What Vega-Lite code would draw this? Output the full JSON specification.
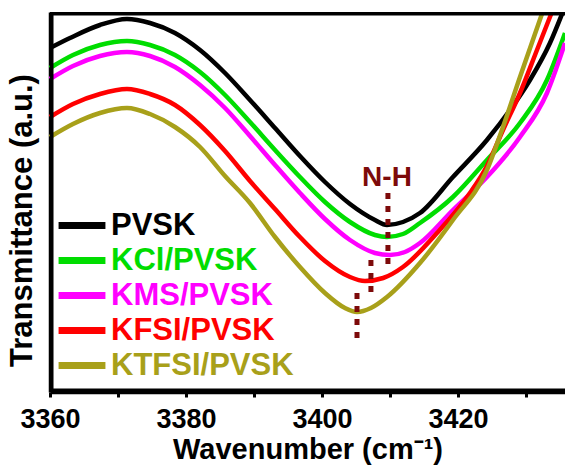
{
  "$schema": "https://vega.github.io/schema/vega-lite/v6.json",
  "width": 515,
  "height": 380,
  "autosize": {"type": "none"},
  "padding": {"left": 50, "top": 12, "right": 0, "bottom": 73},
  "background": "white",
  "config": {
    "view": {"stroke": null},
    "font": "Liberation Sans",
    "axis": {"grid": false, "domainColor": "black", "domainWidth": 3.5, "tickColor": "black", "tickWidth": 3, "labelColor": "black", "titleColor": "black", "labelFont": "Liberation Sans", "titleFont": "Liberation Sans", "labelFontWeight": "bold", "titleFontWeight": "bold"}
  },
  "datasets": {
    "spectra": [
      {"s": "PVSK", "w": 3360, "t": 344}, {"s": "PVSK", "w": 3362.94, "t": 354}, {"s": "PVSK", "w": 3367.35, "t": 367}, {"s": "PVSK", "w": 3371.32, "t": 373}, {"s": "PVSK", "w": 3374.71, "t": 369}, {"s": "PVSK", "w": 3378.38, "t": 359}, {"s": "PVSK", "w": 3382.06, "t": 342}, {"s": "PVSK", "w": 3385.74, "t": 319}, {"s": "PVSK", "w": 3389.41, "t": 292}, {"s": "PVSK", "w": 3393.09, "t": 264}, {"s": "PVSK", "w": 3396.76, "t": 236}, {"s": "PVSK", "w": 3400.44, "t": 210}, {"s": "PVSK", "w": 3404.12, "t": 188}, {"s": "PVSK", "w": 3407.79, "t": 172}, {"s": "PVSK", "w": 3409.56, "t": 167}, {"s": "PVSK", "w": 3411.91, "t": 170}, {"s": "PVSK", "w": 3414.41, "t": 179}, {"s": "PVSK", "w": 3419.26, "t": 215}, {"s": "PVSK", "w": 3424.26, "t": 252}, {"s": "PVSK", "w": 3427.65, "t": 282}, {"s": "PVSK", "w": 3430.59, "t": 312}, {"s": "PVSK", "w": 3433.53, "t": 349}, {"s": "PVSK", "w": 3435.3, "t": 378},
      {"s": "KCl/PVSK", "w": 3360, "t": 324}, {"s": "KCl/PVSK", "w": 3363.38, "t": 337}, {"s": "KCl/PVSK", "w": 3367.35, "t": 347}, {"s": "KCl/PVSK", "w": 3371.32, "t": 351}, {"s": "KCl/PVSK", "w": 3374.71, "t": 347}, {"s": "KCl/PVSK", "w": 3378.38, "t": 337}, {"s": "KCl/PVSK", "w": 3382.06, "t": 320}, {"s": "KCl/PVSK", "w": 3385.74, "t": 297}, {"s": "KCl/PVSK", "w": 3389.41, "t": 270}, {"s": "KCl/PVSK", "w": 3393.09, "t": 242}, {"s": "KCl/PVSK", "w": 3396.76, "t": 215}, {"s": "KCl/PVSK", "w": 3400.44, "t": 190}, {"s": "KCl/PVSK", "w": 3404.12, "t": 170}, {"s": "KCl/PVSK", "w": 3407.79, "t": 157}, {"s": "KCl/PVSK", "w": 3409.56, "t": 155}, {"s": "KCl/PVSK", "w": 3411.91, "t": 158}, {"s": "KCl/PVSK", "w": 3414.41, "t": 169}, {"s": "KCl/PVSK", "w": 3419.26, "t": 195}, {"s": "KCl/PVSK", "w": 3424.26, "t": 232}, {"s": "KCl/PVSK", "w": 3429.12, "t": 269}, {"s": "KCl/PVSK", "w": 3433.09, "t": 312}, {"s": "KCl/PVSK", "w": 3435.74, "t": 359},
      {"s": "KMS/PVSK", "w": 3360, "t": 313}, {"s": "KMS/PVSK", "w": 3363.38, "t": 326}, {"s": "KMS/PVSK", "w": 3367.35, "t": 336}, {"s": "KMS/PVSK", "w": 3371.32, "t": 340}, {"s": "KMS/PVSK", "w": 3374.71, "t": 336}, {"s": "KMS/PVSK", "w": 3378.38, "t": 325}, {"s": "KMS/PVSK", "w": 3382.06, "t": 307}, {"s": "KMS/PVSK", "w": 3385.74, "t": 284}, {"s": "KMS/PVSK", "w": 3389.41, "t": 256}, {"s": "KMS/PVSK", "w": 3393.09, "t": 227}, {"s": "KMS/PVSK", "w": 3396.76, "t": 199}, {"s": "KMS/PVSK", "w": 3400.44, "t": 173}, {"s": "KMS/PVSK", "w": 3404.12, "t": 152}, {"s": "KMS/PVSK", "w": 3407.79, "t": 139}, {"s": "KMS/PVSK", "w": 3410.0, "t": 137}, {"s": "KMS/PVSK", "w": 3412.2, "t": 140}, {"s": "KMS/PVSK", "w": 3414.41, "t": 149}, {"s": "KMS/PVSK", "w": 3419.26, "t": 182}, {"s": "KMS/PVSK", "w": 3424.26, "t": 215}, {"s": "KMS/PVSK", "w": 3429.12, "t": 255}, {"s": "KMS/PVSK", "w": 3433.09, "t": 299}, {"s": "KMS/PVSK", "w": 3435.74, "t": 349},
      {"s": "KFSI/PVSK", "w": 3360, "t": 275}, {"s": "KFSI/PVSK", "w": 3363.38, "t": 288}, {"s": "KFSI/PVSK", "w": 3367.35, "t": 298}, {"s": "KFSI/PVSK", "w": 3371.32, "t": 303}, {"s": "KFSI/PVSK", "w": 3374.71, "t": 298}, {"s": "KFSI/PVSK", "w": 3378.38, "t": 287}, {"s": "KFSI/PVSK", "w": 3382.06, "t": 267}, {"s": "KFSI/PVSK", "w": 3385.74, "t": 241}, {"s": "KFSI/PVSK", "w": 3389.41, "t": 211}, {"s": "KFSI/PVSK", "w": 3393.09, "t": 183}, {"s": "KFSI/PVSK", "w": 3396.76, "t": 155}, {"s": "KFSI/PVSK", "w": 3400.44, "t": 131}, {"s": "KFSI/PVSK", "w": 3404.12, "t": 115}, {"s": "KFSI/PVSK", "w": 3406.32, "t": 111}, {"s": "KFSI/PVSK", "w": 3409.0, "t": 114}, {"s": "KFSI/PVSK", "w": 3411.91, "t": 125}, {"s": "KFSI/PVSK", "w": 3416.91, "t": 159}, {"s": "KFSI/PVSK", "w": 3421.76, "t": 199}, {"s": "KFSI/PVSK", "w": 3424.26, "t": 226}, {"s": "KFSI/PVSK", "w": 3426.62, "t": 262}, {"s": "KFSI/PVSK", "w": 3429.12, "t": 299}, {"s": "KFSI/PVSK", "w": 3431.62, "t": 342}, {"s": "KFSI/PVSK", "w": 3433.7, "t": 378},
      {"s": "KTFSI/PVSK", "w": 3360, "t": 255}, {"s": "KTFSI/PVSK", "w": 3363.38, "t": 268}, {"s": "KTFSI/PVSK", "w": 3367.35, "t": 279}, {"s": "KTFSI/PVSK", "w": 3371.32, "t": 284}, {"s": "KTFSI/PVSK", "w": 3374.71, "t": 278}, {"s": "KTFSI/PVSK", "w": 3378.38, "t": 265}, {"s": "KTFSI/PVSK", "w": 3382.06, "t": 245}, {"s": "KTFSI/PVSK", "w": 3385.74, "t": 216}, {"s": "KTFSI/PVSK", "w": 3389.41, "t": 189}, {"s": "KTFSI/PVSK", "w": 3393.09, "t": 155}, {"s": "KTFSI/PVSK", "w": 3396.76, "t": 125}, {"s": "KTFSI/PVSK", "w": 3400.44, "t": 99}, {"s": "KTFSI/PVSK", "w": 3403.38, "t": 84}, {"s": "KTFSI/PVSK", "w": 3405.15, "t": 80}, {"s": "KTFSI/PVSK", "w": 3407.2, "t": 84}, {"s": "KTFSI/PVSK", "w": 3409.56, "t": 95}, {"s": "KTFSI/PVSK", "w": 3414.41, "t": 129}, {"s": "KTFSI/PVSK", "w": 3419.26, "t": 172}, {"s": "KTFSI/PVSK", "w": 3424.26, "t": 222}, {"s": "KTFSI/PVSK", "w": 3426.62, "t": 265}, {"s": "KTFSI/PVSK", "w": 3429.12, "t": 315}, {"s": "KTFSI/PVSK", "w": 3432.35, "t": 378}
    ],
    "nh": [
      {"w": 3409.7, "t1": 199, "t2": 127},
      {"w": 3407.2, "t1": 132, "t2": 95},
      {"w": 3405.15, "t1": 99, "t2": 54}
    ],
    "nhtext": [{"w": 3409.56, "t": 214, "text": "N-H"}],
    "hborder": [{"t": 378.25}, {"t": 1.75}],
    "vborder": [{"w": 3360.26, "t1": 0, "t2": 380}]
  },
  "layer": [
    {
      "data": {"name": "spectra"},
      "mark": {"type": "line", "strokeWidth": 4.5, "interpolate": "monotone"},
      "encoding": {
        "x": {"field": "w", "type": "quantitative", "scale": {"domain": [3360, 3435.74], "nice": false, "zero": false},
          "axis": {"orient": "bottom", "values": [3360, 3370, 3380, 3390, 3400, 3410, 3420, 3430], "format": "d", "labelExpr": "datum.value % 20 === 0 ? datum.label : ''", "tickSize": 5, "labelFontSize": 27, "labelPadding": 9, "labelFlush": false, "title": "Wavenumber (cm⁻¹)", "titleFontSize": 29, "titlePadding": 3}},
        "y": {"field": "t", "type": "quantitative", "scale": {"domain": [0, 380], "nice": false, "zero": false},
          "axis": {"orient": "left", "labels": false, "ticks": false, "title": "Transmittance (a.u.)", "titleFontSize": 31, "titlePadding": 12, "titleY": 208}},
        "color": {"field": "s", "type": "nominal", "sort": ["PVSK", "KCl/PVSK", "KMS/PVSK", "KFSI/PVSK", "KTFSI/PVSK"],
          "scale": {"domain": ["PVSK", "KCl/PVSK", "KMS/PVSK", "KFSI/PVSK", "KTFSI/PVSK"], "range": ["#000000", "#00DD00", "#FF00FF", "#FF0000", "#A8A01A"]},
          "legend": {"orient": "none", "legendX": 12, "legendY": 193.5, "title": null, "symbolType": "M-1.42,0H1.42", "symbolStrokeWidth": 7, "symbolSize": 1089, "labelFont": "Liberation Sans", "labelFontSize": 31, "labelFontWeight": "bold", "labelOffset": 9, "rowPadding": 0, "labelLimit": 400,
            "encode": {"labels": {"update": {"fill": {"signal": "scale('color', datum.value)"}}}}}}
      }
    },
    {
      "data": {"name": "hborder"},
      "mark": {"type": "rule", "color": "black", "strokeWidth": 3.5},
      "encoding": {
        "y": {"field": "t", "type": "quantitative"}
      }
    },
    {
      "data": {"name": "vborder"},
      "mark": {"type": "rule", "color": "black", "strokeWidth": 3.5},
      "encoding": {
        "x": {"field": "w", "type": "quantitative"},
        "y": {"field": "t1", "type": "quantitative"},
        "y2": {"field": "t2"}
      }
    },
    {
      "data": {"name": "nh"},
      "mark": {"type": "rule", "color": "#7D0A0A", "strokeWidth": 5, "strokeDash": [6, 7], "strokeCap": "butt"},
      "encoding": {
        "x": {"field": "w", "type": "quantitative"},
        "y": {"field": "t1", "type": "quantitative"},
        "y2": {"field": "t2"}
      }
    },
    {
      "data": {"name": "nhtext"},
      "mark": {"type": "text", "color": "#7D0A0A", "font": "Liberation Sans", "fontSize": 28, "fontWeight": "bold", "baseline": "middle", "align": "center"},
      "encoding": {
        "x": {"field": "w", "type": "quantitative"},
        "y": {"field": "t", "type": "quantitative"},
        "text": {"field": "text"}
      }
    }
  ]
}
